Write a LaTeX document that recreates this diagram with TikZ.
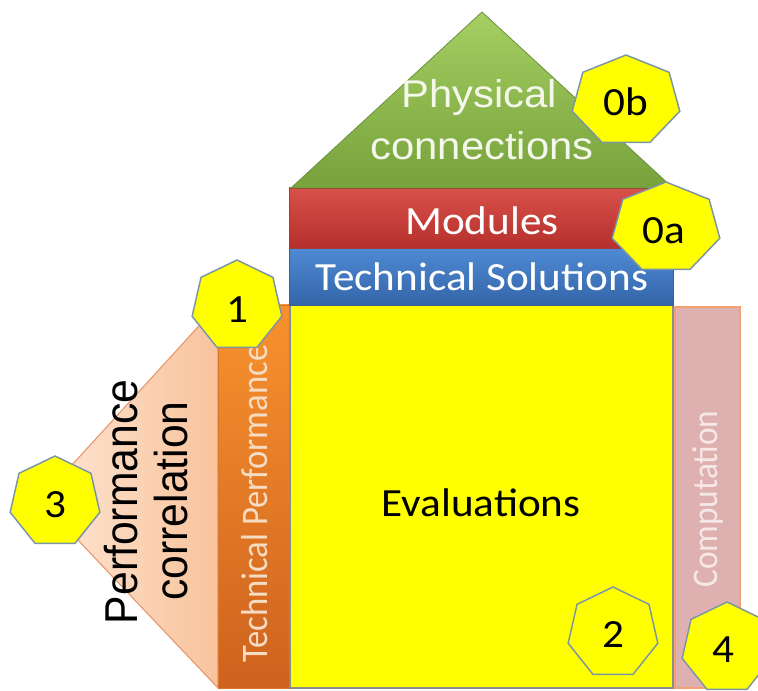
\documentclass[tikz,border=0pt]{standalone}
\usepackage{fontspec}
\setmainfont{Carlito}
\newfontfamily\arialf{Liberation Sans}
\usepackage{graphicx}
\definecolor{grnT}{HTML}{A5CF62}
\definecolor{grnB}{HTML}{77A23C}
\definecolor{grnE}{HTML}{6E9140}
\definecolor{redT}{HTML}{D9504A}
\definecolor{redB}{HTML}{B5302C}
\definecolor{redE}{HTML}{A33A36}
\definecolor{bluT}{HTML}{4F8AD4}
\definecolor{bluB}{HTML}{3465A8}
\definecolor{bluE}{HTML}{3A5F96}
\definecolor{yel}{HTML}{FFFF00}
\definecolor{yelE}{HTML}{8C8C8C}
\definecolor{orT}{HTML}{F7922E}
\definecolor{orB}{HTML}{CE621E}
\definecolor{orE}{HTML}{D9782F}
\definecolor{peachL}{HTML}{FDE6D4}
\definecolor{peachR}{HTML}{F8C39C}
\definecolor{peachE}{HTML}{E8956A}
\definecolor{pinkF}{HTML}{DFB0B0}
\definecolor{pinkE}{HTML}{F2A271}
\definecolor{heptE}{HTML}{7B95A6}
\definecolor{txtOr}{HTML}{F7DCC4}
\definecolor{txtPk}{HTML}{F7E8E8}
\definecolor{txtGr}{HTML}{F4F8EC}
\newcommand{\myhept}[4]{%
  \begin{scope}[shift={(#1,#2)}, xscale=#4]
    \draw[heptst] (270:#3) \foreach \k in {1,...,6}{ -- (270+\k*360/7:#3)} -- cycle;
  \end{scope}}
\begin{document}
\begin{tikzpicture}[x=0.75pt,y=-0.75pt,
  heptst/.style={fill=yel, draw=heptE, line width=1.1pt},
  num/.style={font=\fontsize{30}{30}\selectfont, text=black, inner sep=0pt},
  hlab/.style={font=\fontsize{30}{30}\selectfont, inner sep=0pt, anchor=base},
  arl/.style={font=\arialf\fontsize{29}{29}\selectfont, text=txtGr, inner sep=0pt, anchor=base},
  vlab/.style={inner sep=0pt, rotate=90}]
\useasboundingbox (0,0) rectangle (758,691);
% side triangle and strips
\draw[left color=peachL, right color=peachR, draw=peachE, line width=0.8pt]
  (218,305) -- (40,500) -- (218,688) -- cycle;
\draw[top color=orT, bottom color=orB, draw=orE, line width=0.6pt]
  (218,305) rectangle (289,688);
\draw[fill=pinkF, draw=pinkE, line width=0.8pt] (675,307) rectangle (740,688);
% main box and bands
\draw[fill=yel, draw=yelE, line width=0.8pt] (290,305) rectangle (673,688);
\draw[top color=bluT, bottom color=bluB, draw=bluE, line width=0.6pt] (289,248) rectangle (673,305);
\draw[top color=redT, bottom color=redB, draw=redE, line width=0.6pt] (289,188) rectangle (662,248);
\draw[top color=grnT, bottom color=grnB, draw=grnE, line width=0.6pt]
  (291,188) -- (482,12) -- (673,188) -- cycle;
% texts
\node[arl] (phys1) at (479,108) {\scalebox{1.08}[1]{Physical}};
\node[arl] (phys2) at (482,160) {\scalebox{1.08}[1]{connections}};
\node[hlab, text=white] (mod) at (482,235) {\scalebox{1.08}[1]{Modules}};
\node[hlab, text=white] (tsol) at (482,291) {\scalebox{1.08}[1]{Technical Solutions}};
\node[hlab, text=black] (eval) at (481,517) {\scalebox{1.08}[1]{Evaluations}};
\node[vlab, anchor=base, font=\arialf\fontsize{32}{32}\selectfont, text=black] (pc1) at (137,502) {\scalebox{1}[1.08]{Performance}};
\node[vlab, anchor=base, font=\arialf\fontsize{32}{32}\selectfont, text=black] (pc2) at (187,501) {\scalebox{1}[1.08]{correlation}};
\node[vlab, anchor=base west, font=\fontsize{26}{26}\selectfont, text=txtOr] (tp) at (267,663) {\scalebox{1}[1.08]{Technical Performance}};
\node[vlab, anchor=base west, font=\fontsize{25}{25}\selectfont, text=txtPk] (comp) at (717,588) {\scalebox{1}[1.08]{Computation}};
% heptagons
\myhept{626}{101}{46}{1.2}
\myhept{666}{228}{46}{1.2}
\myhept{237}{306}{46}{1}
\myhept{55}{502}{46}{1}
\myhept{613}{633}{46}{1}
\myhept{727}{648}{46}{1}
\node[num] (n0b) at (626,102) {\scalebox{1.08}[1]{0b}};
\node[num] (n0a) at (664,231) {\scalebox{1.08}[1]{0a}};
\node[num] (n1) at (237,310) {\scalebox{1.08}[1]{1}};
\node[num] (n3) at (55,505) {\scalebox{1.08}[1]{3}};
\node[num] (n2) at (613,635) {\scalebox{1.08}[1]{2}};
\node[num] (n4) at (723,650) {\scalebox{1.08}[1]{4}};
\end{tikzpicture}
\end{document}
